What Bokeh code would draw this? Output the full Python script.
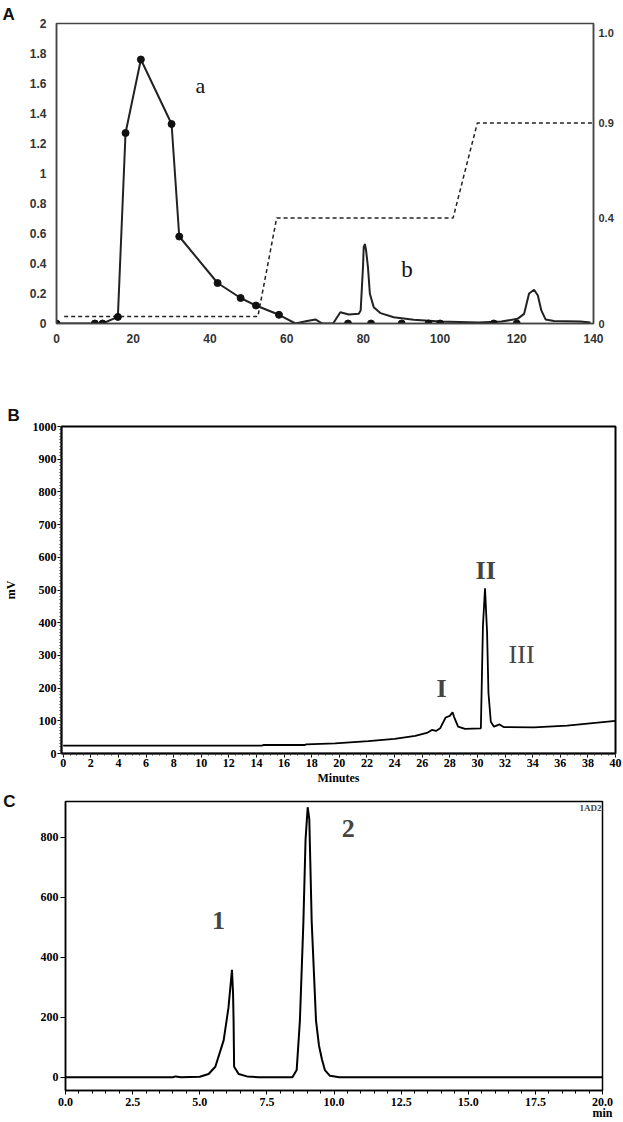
from bokeh.plotting import figure
from bokeh.models import (Range1d, LinearAxis, FixedTicker, SingleIntervalTicker,
                          Label, PrintfTickFormatter)
from bokeh.layouts import column
from bokeh.embed import file_html
from bokeh.resources import INLINE

# ---------------- Panel A data ----------------
a_marker_x = [0, 10, 12, 16, 18, 22, 30, 32, 42, 48, 52, 58, 76, 82, 90, 97, 100, 114, 120]
a_marker_y = [0, 0, 0, 0.044, 1.27, 1.76, 1.33, 0.58, 0.27, 0.17, 0.12, 0.058,
              0, 0, 0, 0, 0, 0, 0]
a_trace_x = [0, 10, 12, 16, 18, 22, 30, 32, 42, 48, 52, 58, 62.3, 65, 67.5, 69.3, 72.1,
             74.0, 76.2, 78.8, 79.3, 79.9, 80.1, 80.4, 80.7, 81.2, 81.7, 82.7, 84.5, 87.9,
             93.1, 100, 110, 116, 120.2, 121.9, 123.2, 124.5, 125.5, 126.4, 127.5, 129.7,
             136.6, 139.2]
a_trace_y = [0, 0, 0, 0.044, 1.27, 1.76, 1.33, 0.58, 0.27, 0.17, 0.12, 0.058, 0, 0.015,
             0.027, 0, 0, 0.075, 0.06, 0.065, 0.087, 0.375, 0.51, 0.53, 0.49, 0.375, 0.198,
             0.109, 0.069, 0.042, 0.025, 0.013, 0.006, 0.013, 0.031, 0.064, 0.2, 0.225,
             0.187, 0.087, 0.027, 0.016, 0.013, 0.007]
grad_x = [2, 52.5, 57.4, 103.4, 109.7, 140]
grad_y = [0.0233, 0.0233, 0.352, 0.352, 0.668, 0.668]
a_left_ticks = [0, 0.2, 0.4, 0.6, 0.8, 1, 1.2, 1.4, 1.6, 1.8, 2]
a_left_labels = ["0", "0.2", "0.4", "0.6", "0.8", "1", "1.2", "1.4", "1.6", "1.8", "2"]
a_right_ticks = [0, 0.352, 0.668, 0.97]
a_right_labels = ["0", "0.4", "0.9", "1.0"]

# ---------------- Panel B data ----------------
b_x = [0, 14.4, 14.5, 17.5, 17.6, 19.7, 22.1, 24.0, 25.5, 26.4, 26.7, 27.0, 27.3, 27.7,
       28.0, 28.2, 28.3, 28.6, 29.1, 30.25, 30.4, 30.55, 30.7, 30.8, 30.97, 31.2, 31.6,
       31.9, 34.1, 36.5, 40]
b_y = [24, 24, 26, 26, 28, 31, 38, 45, 54, 64, 72, 69, 77, 110, 115, 126, 113, 82, 75,
       77, 390, 505, 370, 185, 97, 82, 89, 81, 80, 85, 100]

# ---------------- Panel C data ----------------
c_x = [0, 4.0, 4.1, 4.3, 5.0, 5.33, 5.58, 5.89, 6.07, 6.14, 6.20, 6.24, 6.26, 6.28, 6.45,
       6.76, 7.2, 8.45, 8.61, 8.73, 8.86, 8.94, 9.02, 9.08, 9.17, 9.33, 9.44, 9.55, 9.66,
       9.85, 10.2, 20]
c_y = [0, 0, 3, 0, 2, 11, 35, 123, 232, 300, 358, 280, 189, 35, 11, 3, 0, 0, 24, 189,
       517, 791, 900, 860, 517, 189, 106, 60, 24, 5, 0, 0]

SANS = "Liberation Sans"
SERIF = "Liberation Serif"
W = 623


def no_align(p):
    if "frame_align" in p.properties():
        p.frame_align = False


def panel_title(p, letter, offset, standoff):
    p.title.text = letter
    p.title.align = "left"
    p.title.offset = offset
    p.title.standoff = standoff
    p.title.text_font = SANS
    p.title.text_font_style = "bold"
    p.title.text_font_size = "17px"
    p.title.text_color = "#111111"


# ================= Panel A =================
pA = figure(width=W, height=350, x_range=Range1d(0, 140), y_range=Range1d(0, 2),
            output_backend="svg", toolbar_location=None,
            min_border_left=56, min_border_right=30, min_border_top=23,
            min_border_bottom=27)
no_align(pA)
panel_title(pA, "A", -54, 0)
pA.extra_y_ranges = {"grad": Range1d(0, 1)}
pA.grid.visible = False
pA.outline_line_color = "#444444"
pA.outline_line_width = 1.5

for ax in [pA.xaxis[0], pA.yaxis[0]]:
    ax.axis_line_color = "#444444"
    ax.axis_line_width = 1.5
    ax.major_tick_in = 0
    ax.major_tick_out = 0
    ax.minor_tick_in = 0
    ax.minor_tick_out = 0
    ax.major_tick_line_color = None
    ax.minor_tick_line_color = None
    ax.major_label_text_font = SANS
    ax.major_label_text_font_style = "bold"
    ax.major_label_text_font_size = "12px"
    ax.major_label_text_color = "#333333"
pA.xaxis.ticker = FixedTicker(ticks=[0, 20, 40, 60, 80, 100, 120, 140])
pA.xaxis.major_label_standoff = 10
pA.yaxis.ticker = FixedTicker(ticks=a_left_ticks)
pA.yaxis.major_label_overrides = dict(zip(a_left_ticks, a_left_labels))
pA.yaxis.major_label_standoff = 10

ra = LinearAxis(y_range_name="grad", ticker=FixedTicker(ticks=a_right_ticks),
                major_label_overrides=dict(zip(a_right_ticks, a_right_labels)))
ra.axis_line_color = "#444444"
ra.axis_line_width = 1.5
ra.major_tick_in = 0
ra.major_tick_out = 0
ra.minor_tick_in = 0
ra.minor_tick_out = 0
ra.major_tick_line_color = None
ra.minor_tick_line_color = None
ra.major_label_text_font = SANS
ra.major_label_text_font_style = "bold"
ra.major_label_text_font_size = "11px"
ra.major_label_text_color = "#333333"
ra.major_label_standoff = 5
pA.add_layout(ra, "right")

pA.line(grad_x, grad_y, y_range_name="grad", line_color="#222222", line_width=1.5,
        line_dash="4 3")
pA.line(a_trace_x, a_trace_y, line_color="#222222", line_width=2)
pA.scatter(a_marker_x, a_marker_y, size=7, color="#111111")

pA.add_layout(Label(x=37.5, y=1.59, text="a", text_font=SERIF, text_font_size="22px",
                    text_align="center", text_baseline="middle", text_color="#111111"))
pA.add_layout(Label(x=91.4, y=0.36, text="b", text_font=SERIF, text_font_size="23px",
                    text_align="center", text_baseline="middle", text_color="#111111"))

# ================= Panel B =================
pB = figure(width=W, height=440, x_range=Range1d(-0.12, 40), y_range=Range1d(0, 1000),
            output_backend="svg", toolbar_location=None,
            min_border_left=56, min_border_right=8, min_border_top=76,
            min_border_bottom=37)
no_align(pB)
panel_title(pB, "B", -54, 4)
pB.grid.visible = False
pB.outline_line_color = "black"
pB.outline_line_width = 2
for ax in [pB.xaxis[0], pB.yaxis[0]]:
    ax.axis_line_color = "black"
    ax.axis_line_width = 1.5
    ax.major_tick_in = 0
    ax.major_tick_out = 4
    ax.minor_tick_in = 0
    ax.minor_tick_out = 2
    ax.major_tick_line_color = "black"
    ax.minor_tick_line_color = "#333333"
    ax.major_label_text_font = SERIF
    ax.major_label_text_font_style = "bold"
    ax.major_label_text_font_size = "12px"
    ax.major_label_text_color = "black"
    ax.major_label_standoff = 1
    ax.axis_label_text_font = SERIF
    ax.axis_label_text_font_style = "bold"
    ax.axis_label_text_font_size = "12px"
    ax.axis_label_text_color = "black"
pB.xaxis.ticker = SingleIntervalTicker(interval=2, num_minor_ticks=4)
pB.yaxis.ticker = SingleIntervalTicker(interval=100, num_minor_ticks=10)
pB.xaxis.axis_label = "Minutes"
pB.xaxis.axis_label_standoff = 1
pB.yaxis.axis_label = "mV"
pB.yaxis.axis_label_standoff = 12

pB.line(b_x, b_y, line_color="black", line_width=1.8)
pB.add_layout(Label(x=27.4, y=200, text="I", text_font=SERIF, text_font_style="bold",
                    text_font_size="26px", text_align="center", text_baseline="middle"))
pB.add_layout(Label(x=30.6, y=559, text="II", text_font=SERIF, text_font_style="bold",
                    text_font_size="26px", text_align="center", text_baseline="middle"))
pB.add_layout(Label(x=33.2, y=302, text="III", text_font=SERIF,
                    text_font_size="26px", text_align="center", text_baseline="middle"))

# ================= Panel C =================
pC = figure(width=W, height=332, x_range=Range1d(0, 20), y_range=Range1d(-44, 919),
            output_backend="svg", toolbar_location=None,
            min_border_left=63, min_border_right=21, min_border_top=11,
            min_border_bottom=28)
no_align(pC)
pC.grid.visible = False
pC.outline_line_color = "black"
pC.outline_line_width = 1.5
for ax in [pC.xaxis[0], pC.yaxis[0]]:
    ax.axis_line_color = "black"
    ax.axis_line_width = 1.5
    ax.major_tick_in = 0
    ax.major_tick_out = 5
    ax.minor_tick_in = 0
    ax.minor_tick_out = 3
    ax.major_tick_line_color = "black"
    ax.minor_tick_line_color = "black"
    ax.major_label_text_font = SERIF
    ax.major_label_text_font_style = "bold"
    ax.major_label_text_font_size = "12px"
    ax.major_label_text_color = "black"
    ax.major_label_standoff = 2
pC.xaxis.ticker = SingleIntervalTicker(interval=2.5, num_minor_ticks=5)
pC.xaxis.formatter = PrintfTickFormatter(format="%.1f")
pC.xaxis.major_label_overrides = {20: "20.0\nmin"}
pC.xaxis.major_label_text_line_height = 0.8
pC.xaxis.major_label_standoff = 0
pC.xaxis.major_tick_out = 4
pC.yaxis.ticker = SingleIntervalTicker(interval=200, num_minor_ticks=0)
pC.yaxis.minor_tick_line_color = None
pC.yaxis.minor_tick_out = 0

# panel letter "C" as a horizontal y-axis label at the top end
ya = pC.yaxis[0]
ya.axis_label = "C"
ya.axis_label_orientation = "horizontal"
if "axis_label_align" in ya.properties():
    ya.axis_label_align = "end"
ya.axis_label_standoff = 22
ya.axis_label_text_font = SANS
ya.axis_label_text_font_style = "bold"
ya.axis_label_text_font_size = "17px"
ya.axis_label_text_color = "#111111"

pC.line(c_x, c_y, line_color="black", line_width=2)
pC.add_layout(Label(x=5.7, y=522, text="1", text_font=SERIF, text_font_style="bold",
                    text_font_size="26px", text_align="center", text_baseline="middle"))
pC.add_layout(Label(x=10.53, y=829, text="2", text_font=SERIF, text_font_style="bold",
                    text_font_size="26px", text_align="center", text_baseline="middle"))
pC.add_layout(Label(x=20, y=915, x_offset=-1, text="1AD2", text_font=SERIF,
                    text_font_style="bold", text_font_size="9px", text_align="right",
                    text_baseline="top"))

layout = column(pA, pB, pC, spacing=0)
open("out.html", "w").write(file_html(layout, INLINE))
